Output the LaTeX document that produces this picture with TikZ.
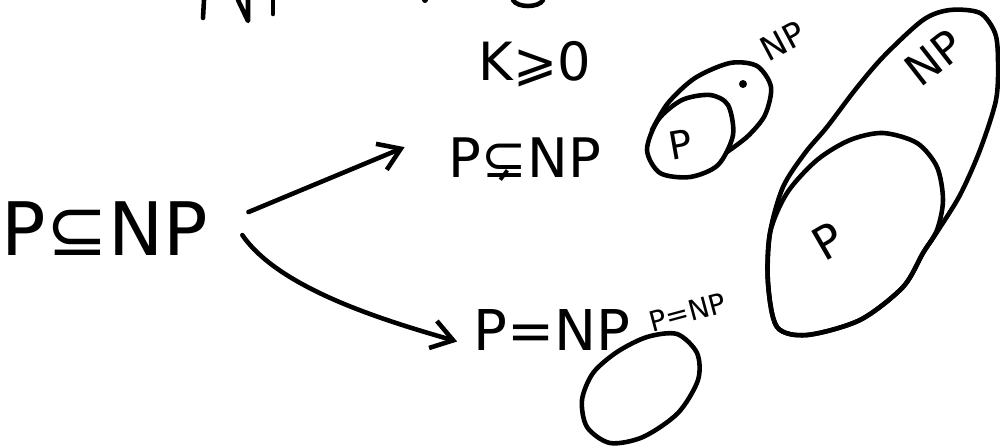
\documentclass[tikz,border=0pt]{standalone}
\usepackage{fontspec}
\setmainfont{DejaVu Sans}
\usetikzlibrary{arrows.meta}

\tikzset{
  pen/.style={line width=2.6pt, line cap=round, line join=round},
  arr/.style={pen, -{Straight Barb[length=12pt, width=16pt, line width=2.6pt]}},
  hand/.style={inner sep=0pt, anchor=base},
}

\begin{document}
\begin{tikzpicture}[x=0.02cm,y=-0.02cm]
        \useasboundingbox (0,0) rectangle (1000,447);
        \clip (0,0) rectangle (1000,447);
        % cut-off strokes at the top edge
        \draw[pen] (204,0) -- (203,18);
        \draw[pen] (238,0) -- (248,21) -- (248,0);
        \draw[pen] (273,0) -- (273,14);
        \fill (425,0) circle (3);
        \draw[pen] (513,0) .. controls (517,8) and (539,8) .. (543,0);
        % statements
        \node[hand, font=\fontsize{42}{50}\selectfont] (subset) at (105,255) {P⊆NP};
        \node[hand, font=\fontsize{31}{38}\selectfont] (proper) at (525,177) {P⊊NP};
        \node[hand, font=\fontsize{30}{36}\selectfont] (kzero) at (535,80) {K⩾0};
        \node[hand, font=\fontsize{32}{38}\selectfont] (equal) at (552,350) {P=NP};
        \draw[arr] ([shift={(40,-16)}]subset.east) -- ([shift={(-44,-12)}]proper.west);
        \draw[arr] ([shift={(34,7)}]subset.east) .. controls (280,290) and (390,322) .. ([shift={(-16,12)}]equal.west);
        % small picture: P inside NP
        \draw[pen] plot[smooth cycle] coordinates {(647,150) (660,173) (690,177) (718,165) (733,135) (728,105) (710,95) (682,100) (658,120)};
        \draw[pen] plot[smooth] coordinates {(652,130) (668,103) (695,78) (730,63) (757,66) (771,87) (765,115) (748,136) (727,152)};
        \fill (743,84) circle (4);
        \node[hand, rotate=10, font=\fontsize{22}{26}\selectfont] (smallp) at (683,158) {P};
        \node[hand, rotate=28, font=\fontsize{19}{23}\selectfont] (smallnp) at (788,52) {NP};
        % big picture: P inside NP
        \draw[pen] plot[smooth cycle] coordinates {(768,283) (770,233) (783,187) (805,153) (827,127) (855,90) (883,57) (923,20) (950,10) (980,13) (995,33) (998,60) (996,100) (980,150) (960,195) (937,232) (923,253) (903,287) (860,320) (807,335) (777,327)};
        \draw[pen] plot[smooth cycle] coordinates {(883,133) (917,143) (937,167) (943,200) (937,230) (923,253) (903,287) (860,320) (807,335) (777,327) (768,283) (770,233) (787,193) (817,160) (850,140)};
        \node[hand, rotate=38, font=\fontsize{25}{30}\selectfont] (bignp) at (944,70) {NP};
        \node[hand, rotate=30, font=\fontsize{26}{30}\selectfont] (bigp) at (836,256) {P};
        % small picture: P = NP
        \draw[pen] plot[smooth cycle] coordinates {(647,337) (677,334) (697,353) (698,380) (678,413) (643,437) (610,443) (587,427) (582,400) (593,373) (617,352)};
        \node[hand, rotate=15, font=\fontsize{16}{20}\selectfont] (eqlabel) at (690,322) {P=NP};
\end{tikzpicture}
\end{document}
